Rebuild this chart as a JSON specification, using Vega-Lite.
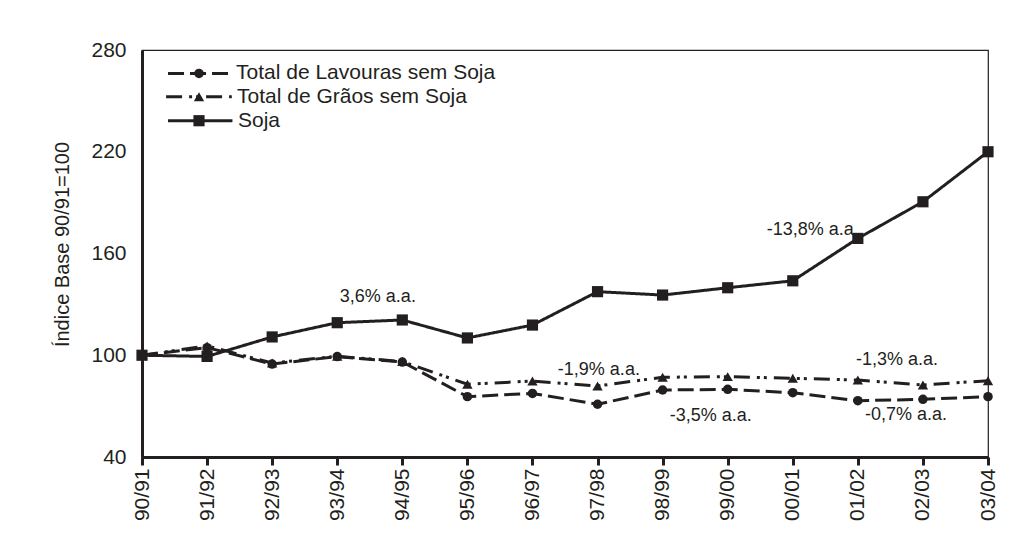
{
  "$schema": "https://vega.github.io/schema/vega-lite/v6.json",
  "width": 846,
  "height": 407,
  "autosize": "none",
  "padding": {"left": 142, "top": 50, "right": 28, "bottom": 90},
  "background": "white",
  "config": {
    "font": "Liberation Sans",
    "view": {"stroke": "#231f20", "strokeWidth": 1.2},
    "axis": {
      "domainColor": "#231f20", "domainWidth": 3,
      "labelColor": "#231f20", "labelFont": "Liberation Sans", "labelFontSize": 21,
      "tickColor": "#231f20", "grid": false,
      "titleFont": "Liberation Sans", "titleFontWeight": "normal", "titleColor": "#231f20", "titleFontSize": 20
    },
    "text": {"font": "Liberation Sans", "color": "#231f20"}
  },
  "datasets": {
    "indice": [
      {"t": 0, "safra": "90/91", "Total de Lavouras sem Soja": 100, "Total de Grãos sem Soja": 100, "Soja": 100},
      {"t": 1, "safra": "91/92", "Total de Lavouras sem Soja": 104.5, "Total de Grãos sem Soja": 105.5, "Soja": 99.3},
      {"t": 2, "safra": "92/93", "Total de Lavouras sem Soja": 94.8, "Total de Grãos sem Soja": 95.4, "Soja": 110.8},
      {"t": 3, "safra": "93/94", "Total de Lavouras sem Soja": 99.2, "Total de Grãos sem Soja": 99.4, "Soja": 119.2},
      {"t": 4, "safra": "94/95", "Total de Lavouras sem Soja": 96.0, "Total de Grãos sem Soja": 96.3, "Soja": 120.8},
      {"t": 5, "safra": "95/96", "Total de Lavouras sem Soja": 75.6, "Total de Grãos sem Soja": 82.9, "Soja": 110.2},
      {"t": 6, "safra": "96/97", "Total de Lavouras sem Soja": 77.5, "Total de Grãos sem Soja": 84.8, "Soja": 117.8},
      {"t": 7, "safra": "97/98", "Total de Lavouras sem Soja": 71.1, "Total de Grãos sem Soja": 81.9, "Soja": 137.5},
      {"t": 8, "safra": "98/99", "Total de Lavouras sem Soja": 79.5, "Total de Grãos sem Soja": 87.0, "Soja": 135.5},
      {"t": 9, "safra": "99/00", "Total de Lavouras sem Soja": 79.9, "Total de Grãos sem Soja": 87.4, "Soja": 139.8},
      {"t": 10, "safra": "00/01", "Total de Lavouras sem Soja": 77.9, "Total de Grãos sem Soja": 86.4, "Soja": 143.9},
      {"t": 11, "safra": "01/02", "Total de Lavouras sem Soja": 73.2, "Total de Grãos sem Soja": 85.4, "Soja": 168.9},
      {"t": 12, "safra": "02/03", "Total de Lavouras sem Soja": 74.0, "Total de Grãos sem Soja": 82.5, "Soja": 190.5},
      {"t": 13, "safra": "03/04", "Total de Lavouras sem Soja": 75.6, "Total de Grãos sem Soja": 85.0, "Soja": 220.0}
    ]
  },
  "layer": [
    {
      "data": {"name": "indice"},
      "transform": [{"fold": ["Total de Lavouras sem Soja", "Total de Grãos sem Soja", "Soja"], "as": ["serie", "valor"]}],
      "encoding": {
        "x": {
          "field": "t", "type": "quantitative",
          "scale": {"domain": [0, 13], "nice": false, "zero": false},
          "axis": {
            "values": [0,1,2,3,4,5,6,7,8,9,10,11,12,13],
            "labelExpr": "['90/91','91/92','92/93','93/94','94/95','95/96','96/97','97/98','98/99','99/00','00/01','01/02','02/03','03/04'][datum.value]",
            "labelAngle": -90, "tickSize": 8, "tickWidth": 3, "labelPadding": 3, "title": null
          }
        },
        "y": {
          "field": "valor", "type": "quantitative",
          "scale": {"domain": [40, 280], "nice": false, "zero": false},
          "axis": {
            "values": [40, 100, 160, 220, 280], "ticks": false, "labelPadding": 16,
            "title": "Índice Base 90/91=100", "titlePadding": 18, "titleY": 194
          }
        },
        "strokeDash": {
          "field": "serie", "type": "nominal", "legend": null,
          "scale": {"domain": ["Total de Lavouras sem Soja", "Total de Grãos sem Soja", "Soja"], "range": [[16, 6], [16, 7, 3, 4, 3, 7], [1, 0]]}
        }
      },
      "layer": [
        {"mark": {"type": "line", "color": "#231f20", "strokeWidth": 3}, "encoding": {"detail": {"field": "serie"}}},
        {
          "mark": {"type": "point", "filled": true, "color": "#231f20", "opacity": 1},
          "encoding": {
            "strokeDash": null,
            "shape": {"field": "serie", "type": "nominal", "legend": null,
              "scale": {"domain": ["Total de Lavouras sem Soja", "Total de Grãos sem Soja", "Soja"], "range": ["circle", "triangle-up", "square"]}},
            "size": {"field": "serie", "type": "nominal", "legend": null,
              "scale": {"domain": ["Total de Lavouras sem Soja", "Total de Grãos sem Soja", "Soja"], "range": [90, 125, 100]}}
          }
        }
      ]
    },
    {
      "data": {"values": [{"texto": "3,6% a.a."}]},
      "mark": {"type": "text", "align": "left", "baseline": "middle", "fontSize": 18},
      "encoding": {"x": {"datum": 3.04, "type": "quantitative"}, "y": {"datum": 134.3, "type": "quantitative"}, "text": {"field": "texto"}}
    },
    {
      "data": {"values": [{"texto": "-1,9% a.a."}]},
      "mark": {"type": "text", "align": "left", "baseline": "middle", "fontSize": 18},
      "encoding": {"x": {"datum": 6.39, "type": "quantitative"}, "y": {"datum": 91.5, "type": "quantitative"}, "text": {"field": "texto"}}
    },
    {
      "data": {"values": [{"texto": "-3,5% a.a."}]},
      "mark": {"type": "text", "align": "left", "baseline": "middle", "fontSize": 18},
      "encoding": {"x": {"datum": 8.11, "type": "quantitative"}, "y": {"datum": 64.3, "type": "quantitative"}, "text": {"field": "texto"}}
    },
    {
      "data": {"values": [{"texto": "-13,8% a.a."}]},
      "mark": {"type": "text", "align": "left", "baseline": "middle", "fontSize": 18},
      "encoding": {"x": {"datum": 9.6, "type": "quantitative"}, "y": {"datum": 173.8, "type": "quantitative"}, "text": {"field": "texto"}}
    },
    {
      "data": {"values": [{"texto": "-1,3% a.a."}]},
      "mark": {"type": "text", "align": "left", "baseline": "middle", "fontSize": 18},
      "encoding": {"x": {"datum": 10.97, "type": "quantitative"}, "y": {"datum": 97.2, "type": "quantitative"}, "text": {"field": "texto"}}
    },
    {
      "data": {"values": [{"texto": "-0,7% a.a."}]},
      "mark": {"type": "text", "align": "left", "baseline": "middle", "fontSize": 18},
      "encoding": {"x": {"datum": 11.11, "type": "quantitative"}, "y": {"datum": 64.8, "type": "quantitative"}, "text": {"field": "texto"}}
    },
    {
      "data": {"values": [{"serie": "Total de Lavouras sem Soja"}]},
      "encoding": {"y": {"datum": 266.2, "type": "quantitative"}},
      "layer": [
        {"mark": {"type": "rule", "color": "#231f20", "strokeWidth": 3},
         "encoding": {"x": {"datum": 0.4, "type": "quantitative"}, "x2": {"datum": 1.36},
           "strokeDash": {"field": "serie", "type": "nominal", "legend": null}}},
        {"mark": {"type": "point", "filled": true, "color": "#231f20", "opacity": 1},
         "encoding": {"x": {"datum": 0.876, "type": "quantitative"},
           "shape": {"field": "serie", "type": "nominal", "legend": null},
           "size": {"field": "serie", "type": "nominal", "legend": null}}},
        {"mark": {"type": "text", "align": "left", "baseline": "middle", "fontSize": 21},
         "encoding": {"x": {"datum": 1.445, "type": "quantitative"}, "text": {"field": "serie"}}}
      ]
    },
    {
      "data": {"values": [{"serie": "Total de Grãos sem Soja"}]},
      "encoding": {"y": {"datum": 252.4, "type": "quantitative"}},
      "layer": [
        {"mark": {"type": "rule", "color": "#231f20", "strokeWidth": 3},
         "encoding": {"x": {"datum": 0.37, "type": "quantitative"}, "x2": {"datum": 1.38},
           "strokeDash": {"field": "serie", "type": "nominal", "legend": null}}},
        {"mark": {"type": "point", "filled": true, "color": "#231f20", "opacity": 1},
         "encoding": {"x": {"datum": 0.876, "type": "quantitative"},
           "shape": {"field": "serie", "type": "nominal", "legend": null},
           "size": {"field": "serie", "type": "nominal", "legend": null}}},
        {"mark": {"type": "text", "align": "left", "baseline": "middle", "fontSize": 21},
         "encoding": {"x": {"datum": 1.46, "type": "quantitative"}, "text": {"field": "serie"}}}
      ]
    },
    {
      "data": {"values": [{"serie": "Soja"}]},
      "encoding": {"y": {"datum": 238.3, "type": "quantitative"}},
      "layer": [
        {"mark": {"type": "rule", "color": "#231f20", "strokeWidth": 3},
         "encoding": {"x": {"datum": 0.4, "type": "quantitative"}, "x2": {"datum": 1.39},
           "strokeDash": {"field": "serie", "type": "nominal", "legend": null}}},
        {"mark": {"type": "point", "filled": true, "color": "#231f20", "opacity": 1},
         "encoding": {"x": {"datum": 0.876, "type": "quantitative"},
           "shape": {"field": "serie", "type": "nominal", "legend": null},
           "size": {"field": "serie", "type": "nominal", "legend": null}}},
        {"mark": {"type": "text", "align": "left", "baseline": "middle", "fontSize": 21},
         "encoding": {"x": {"datum": 1.475, "type": "quantitative"}, "text": {"field": "serie"}}}
      ]
    }
  ]
}
